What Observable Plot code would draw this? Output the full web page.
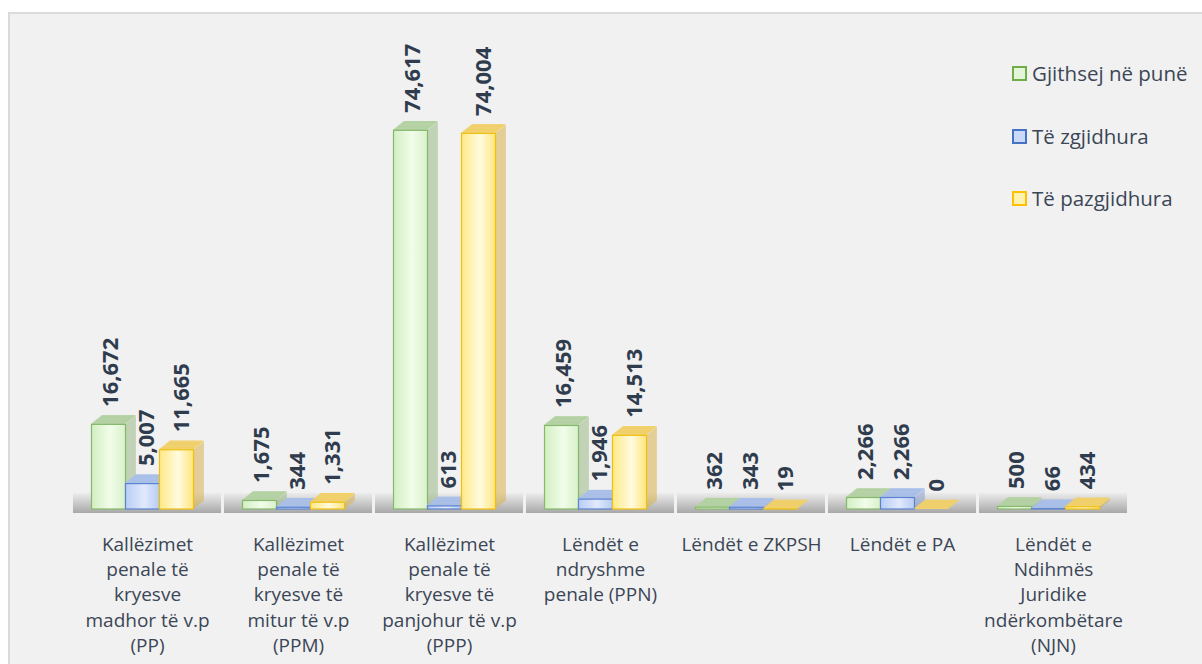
<!DOCTYPE html>
<html><head><meta charset="utf-8">
<script src="https://cdn.jsdelivr.net/npm/d3@7"></script>
<script src="https://cdn.jsdelivr.net/npm/@observablehq/plot@0.6"></script>
<style>
html,body{margin:0;padding:0;background:#fff;width:1202px;height:664px;overflow:hidden;font-family:"Open Sans",sans-serif}
#frame{position:absolute;left:8px;top:12px;width:1210px;height:670px;background:#f1f1f1;border-left:2px solid #dadada;border-top:2px solid #dadada}
#chart{position:absolute;left:0;top:0}
#legend{position:absolute;left:1012px;top:0}
.item{position:absolute;left:0;height:28px;line-height:28px;display:flex;align-items:center;white-space:nowrap;font-size:20.5px;color:#3b4656}
.sw{width:11px;height:11px;border:2px solid;margin-right:5px;box-sizing:content-box}
</style></head>
<body>
<div id="frame"></div>
<div id="chart"></div>
<div id="legend"></div>
<script>
// ---- data ----
const categories = ["PP", "PPM", "PPP", "PPN", "ZKPSH", "PA", "NJN"];
const categoryLabels = [
  "Kallëzimet\npenale të\nkryesve\nmadhor të v.p\n(PP)",
  "Kallëzimet\npenale të\nkryesve të\nmitur të v.p\n(PPM)",
  "Kallëzimet\npenale të\nkryesve të\npanjohur të v.p\n(PPP)",
  "Lëndët e\nndryshme\npenale (PPN)",
  "Lëndët e ZKPSH",
  "Lëndët e PA",
  "Lëndët e\nNdihmës\nJuridike\nndërkombëtare\n(NJN)"
];
const seriesNames = ["Gjithsej në punë", "Të zgjidhura", "Të pazgjidhura"];
const totalInWork = [16672, 1675, 74617, 16459, 362, 2266, 500];
const solved = [5007, 344, 613, 1946, 343, 2266, 66];
const unsolved = [11665, 1331, 74004, 14513, 19, 0, 434];

// ---- styles ----
const seriesValues = [totalInWork, solved, unsolved];
const gradIds = ["gGreen", "gBlue", "gYellow"];
const gradStops = [
  ["#d2efc1", "#f1fdea", "#d9f1ca"],
  ["#b8cdf6", "#e1e9fd", "#b6cbf3"],
  ["#ffe985", "#fffbe0", "#ffe57c"]
];
const strokeCols = ["#86b86c", "#5a82cf", "#f0c010"];
const topCols = ["#b3d1a2", "#a9bfe8", "#f1d06a"];
const sideCols = ["#9dbb8c", "#8ca4d3", "#d7b552"];
const legendFill = ["#e3f6d9", "#cbd9f8", "#fff2b0"];
const legendStroke = ["#70ad47", "#4472c4", "#ffc000"];
const labelDx = [-3, -1, 0];

const table = categories.flatMap((c, i) =>
  seriesNames.map((s, j) => ({cat: c, series: s, value: seriesValues[j][i]})));
const labelOf = Object.fromEntries(categories.map((c, i) => [c, categoryLabels[i]]));
const fmt = d3.format(",");

const bw = 104 / 3;
const depth = 10;
const steps = 10;
const marks = [];

// floor
marks.push(Plot.barY(categories, {
  fx: d => d, y1: () => 0, y2: () => 0,
  insetTop: -16, insetBottom: -4, insetLeft: -22, insetRight: -22,
  fill: "url(#gFloor)"
}));

seriesNames.forEach((s, j) => {
  const data = table.filter(d => d.series === s);
  // side face sweep
  for (let k = 0; k <= steps; k++) {
    marks.push(Plot.barY(data, {
      x: "series", fx: "cat", y1: () => 0, y2: "value",
      insetLeft: bw - 1.3, fill: sideCols[j],
      dx: -5 + k * depth / steps, dy: -0.8 * k * depth / steps
    }));
  }
  // top face sweep
  for (let k = 0; k <= steps; k++) {
    marks.push(Plot.barY(data, {
      x: "series", fx: "cat", y1: "value", y2: "value",
      insetTop: -1.3, fill: topCols[j],
      dx: -5 + k * depth / steps, dy: -0.8 * k * depth / steps
    }));
  }
  // front face
  marks.push(Plot.barY(data, {
    x: "series", fx: "cat", y1: () => 0, y2: "value",
    fill: `url(#${gradIds[j]})`, stroke: strokeCols[j], strokeWidth: 1.2,
    dx: -5
  }));
});

// value labels
seriesNames.forEach((s, j) => {
  const data = table.filter(d => d.series === s);
  marks.push(Plot.text(data, {
    x: "series", fx: "cat", y: "value", text: d => fmt(d.value),
    rotate: -90, textAnchor: "start", lineAnchor: "middle",
    dx: labelDx[j], dy: -18,
    fontSize: 22, fontWeight: "bold", fill: "#2f3c4e", fontFamily: "Open Sans"
  }));
});

marks.push(Plot.axisFx({
  anchor: "bottom", tickSize: 0, tickPadding: 23, label: null,
  tickFormat: d => labelOf[d], fontSize: 19, lineHeight: 1.34,
  fill: "#3b4656", fontFamily: "Open Sans"
}));

const chart = Plot.plot({
  width: 1202, height: 664,
  marginLeft: 71.5, marginRight: 73.5, marginTop: 103, marginBottom: 155,
  fx: {domain: categories, paddingInner: 0.311, paddingOuter: 0.1555, label: null},
  x: {domain: seriesNames, padding: 0, axis: null},
  y: {domain: [0, 80000], axis: null},
  style: {background: "transparent", overflow: "visible", fontFamily: "Open Sans", color: "#3b4656"},
  marks
});

const defs = d3.select(chart).insert("defs", ":first-child");
gradIds.forEach((id, j) => {
  const g = defs.append("linearGradient").attr("id", id)
    .attr("x1", 0).attr("x2", 1).attr("y1", 0).attr("y2", 0);
  g.append("stop").attr("offset", "0").attr("stop-color", gradStops[j][0]);
  g.append("stop").attr("offset", "0.55").attr("stop-color", gradStops[j][1]);
  g.append("stop").attr("offset", "1").attr("stop-color", gradStops[j][2]);
});
const fg = defs.append("linearGradient").attr("id", "gFloor")
  .attr("x1", 0).attr("x2", 0).attr("y1", 0).attr("y2", 1);
fg.append("stop").attr("offset", "0").attr("stop-color", "#ececec");
fg.append("stop").attr("offset", "0.5").attr("stop-color", "#cacaca");
fg.append("stop").attr("offset", "1").attr("stop-color", "#a8a8a8");

document.getElementById("chart").appendChild(chart);

// legend
const legend = document.getElementById("legend");
const rowCenters = [73, 136, 198];
seriesNames.forEach((s, j) => {
  const it = document.createElement("div");
  it.className = "item";
  it.style.top = (rowCenters[j] - 14) + "px";
  const sw = document.createElement("span");
  sw.className = "sw";
  sw.style.background = legendFill[j];
  sw.style.borderColor = legendStroke[j];
  it.appendChild(sw);
  it.appendChild(document.createTextNode(s));
  legend.appendChild(it);
});
</script>
</body></html>
